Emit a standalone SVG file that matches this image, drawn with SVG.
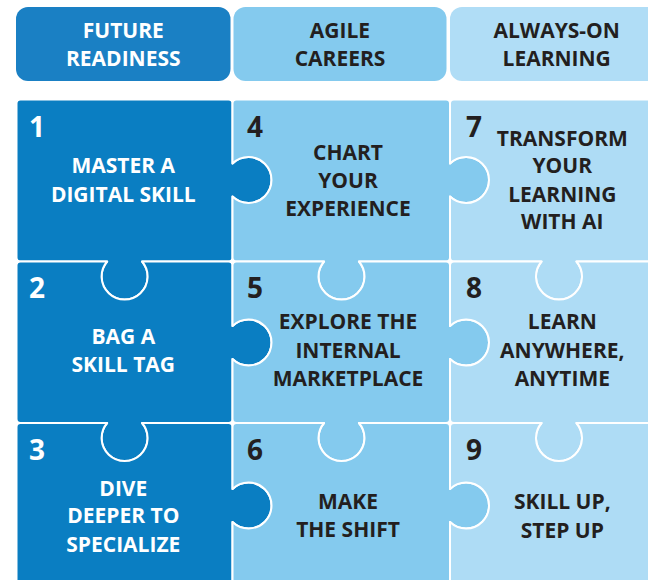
<svg xmlns="http://www.w3.org/2000/svg" width="648" height="580" viewBox="0 0 648 580">
<style>
.c1{fill:#0a7ec2}
.c2{fill:#84caee}
.c3{fill:#aedcf5}
.pc{stroke:#ffffff;stroke-width:2;stroke-linejoin:round}
text{font-family:"Open Sans","Noto Sans","DejaVu Sans",sans-serif;font-weight:700;text-anchor:middle}
.t{font-size:21px}
.w{fill:#ffffff}
.d{fill:#231f20}
.n{font-size:28px;text-anchor:start}
</style>
<rect width="648" height="580" fill="#ffffff"/>
<g id="header-future-readiness">
<rect x="16" y="7" width="214.5" height="74" rx="12" fill="#1a80c4"/>
<text class="t w" x="123.3" y="38.3">FUTURE</text>
<text class="t w" x="123.3" y="65.7">READINESS</text>
</g>
<g id="header-agile-careers">
<rect x="233.5" y="7" width="213" height="74" rx="12" fill="#84caee"/>
<text class="t d" x="340" y="38.3">AGILE</text>
<text class="t d" x="340" y="65.7">CAREERS</text>
</g>
<g id="header-always-on-learning">
<rect x="450" y="7" width="230" height="74" rx="12" fill="#b0ddf6"/>
<text class="t d" x="556.7" y="38.3">ALWAYS-ON</text>
<text class="t d" x="556.7" y="65.7">LEARNING</text>
</g>
<g id="piece-1">
<path class="c1 pc" d="M 20.5 99.5 H 228.5 Q 232.5 99.5 232.5 103.5 V 163.48 A 23 23 0 1 1 232.5 196.52 V 257.5 Q 232.5 261.5 228.5 261.5 H 142.04 A 23 23 0 1 1 107.16 261.5 H 20.5 Q 16.5 261.5 16.5 257.5 V 103.5 Q 16.5 99.5 20.5 99.5 Z"/>
</g>
<g id="piece-2">
<path class="c1 pc" d="M 20.5 261.5 H 107.16 A 23 23 0 1 0 142.04 261.5 H 228.5 Q 232.5 261.5 232.5 265.5 V 325.98 A 23 23 0 1 1 232.5 359.02 V 419 Q 232.5 423 228.5 423 H 142.04 A 23 23 0 1 1 107.16 423 H 20.5 Q 16.5 423 16.5 419 V 265.5 Q 16.5 261.5 20.5 261.5 Z"/>
</g>
<g id="piece-3">
<path class="c1 pc" d="M 20.5 423 H 107.16 A 23 23 0 1 0 142.04 423 H 228.5 Q 232.5 423 232.5 427 V 488.98 A 23 23 0 1 1 232.5 522.02 V 590 H 16.5 V 427 Q 16.5 423 20.5 423 Z"/>
</g>
<g id="piece-4">
<path class="c2 pc" d="M 236.5 99.5 H 446 Q 450 99.5 450 103.5 V 163.48 A 23 23 0 1 1 450 196.52 V 257.5 Q 450 261.5 446 261.5 H 358.94 A 23 23 0 1 1 324.06 261.5 H 236.5 Q 232.5 261.5 232.5 257.5 V 196.52 A 23 23 0 1 0 232.5 163.48 V 103.5 Q 232.5 99.5 236.5 99.5 Z"/>
</g>
<g id="piece-5">
<path class="c2 pc" d="M 236.5 261.5 H 324.06 A 23 23 0 1 0 358.94 261.5 H 446 Q 450 261.5 450 265.5 V 325.98 A 23 23 0 1 1 450 359.02 V 419 Q 450 423 446 423 H 358.94 A 23 23 0 1 1 324.06 423 H 236.5 Q 232.5 423 232.5 419 V 359.02 A 23 23 0 1 0 232.5 325.98 V 265.5 Q 232.5 261.5 236.5 261.5 Z"/>
</g>
<g id="piece-6">
<path class="c2 pc" d="M 236.5 423 H 324.06 A 23 23 0 1 0 358.94 423 H 446 Q 450 423 450 427 V 488.98 A 23 23 0 1 1 450 522.02 V 590 H 232.5 V 522.02 A 23 23 0 1 0 232.5 488.98 V 427 Q 232.5 423 236.5 423 Z"/>
</g>
<g id="piece-7">
<path class="c3 pc" d="M 454 99.5 H 664 Q 668 99.5 668 103.5 V 257.5 Q 668 261.5 664 261.5 H 576.44 A 23 23 0 1 1 541.56 261.5 H 454 Q 450 261.5 450 257.5 V 196.52 A 23 23 0 1 0 450 163.48 V 103.5 Q 450 99.5 454 99.5 Z"/>
</g>
<g id="piece-8">
<path class="c3 pc" d="M 454 261.5 H 541.56 A 23 23 0 1 0 576.44 261.5 H 664 Q 668 261.5 668 265.5 V 419 Q 668 423 664 423 H 576.44 A 23 23 0 1 1 541.56 423 H 454 Q 450 423 450 419 V 359.02 A 23 23 0 1 0 450 325.98 V 265.5 Q 450 261.5 454 261.5 Z"/>
</g>
<g id="piece-9">
<path class="c3 pc" d="M 454 423 H 541.56 A 23 23 0 1 0 576.44 423 H 668 V 590 H 450 V 522.02 A 23 23 0 1 0 450 488.98 V 427 Q 450 423 454 423 Z"/>
</g>
<g id="labels-1">
<text class="n w" x="29" y="136.7">1</text>
<text class="t w" x="123.3" y="173.3">MASTER A</text>
<text class="t w" x="123.3" y="201.7">DIGITAL SKILL</text>
</g>
<g id="labels-2">
<text class="n w" x="29" y="298">2</text>
<text class="t w" x="123.3" y="344">BAG A</text>
<text class="t w" x="123.3" y="371.7">SKILL TAG</text>
</g>
<g id="labels-3">
<text class="n w" x="29" y="460">3</text>
<text class="t w" x="123.3" y="496">DIVE</text>
<text class="t w" x="123.3" y="523.3">DEEPER TO</text>
<text class="t w" x="123.3" y="551.7">SPECIALIZE</text>
</g>
<g id="labels-4">
<text class="n d" x="247" y="136.7">4</text>
<text class="t d" x="348" y="160">CHART</text>
<text class="t d" x="348" y="187.7">YOUR</text>
<text class="t d" x="348" y="215.7">EXPERIENCE</text>
</g>
<g id="labels-5">
<text class="n d" x="247" y="298">5</text>
<text class="t d" x="348" y="329.3">EXPLORE THE</text>
<text class="t d" x="348" y="357.7">INTERNAL</text>
<text class="t d" x="348" y="385.7">MARKETPLACE</text>
</g>
<g id="labels-6">
<text class="n d" x="247" y="460">6</text>
<text class="t d" x="348" y="509">MAKE</text>
<text class="t d" x="348" y="536.7">THE SHIFT</text>
</g>
<g id="labels-7">
<text class="n d" x="466" y="136.7">7</text>
<text class="t d" x="562.3" y="145.7">TRANSFORM</text>
<text class="t d" x="562.3" y="173.3">YOUR</text>
<text class="t d" x="562.3" y="201.7">LEARNING</text>
<text class="t d" x="562.3" y="229.3">WITH AI</text>
</g>
<g id="labels-8">
<text class="n d" x="466" y="298">8</text>
<text class="t d" x="562.3" y="329.3">LEARN</text>
<text class="t d" x="562.3" y="357.7">ANYWHERE,</text>
<text class="t d" x="562.3" y="385.7">ANYTIME</text>
</g>
<g id="labels-9">
<text class="n d" x="466" y="460">9</text>
<text class="t d" x="562.3" y="509">SKILL UP,</text>
<text class="t d" x="562.3" y="537.7">STEP UP</text>
</g>
<g id="connectors"></g>
</svg>
